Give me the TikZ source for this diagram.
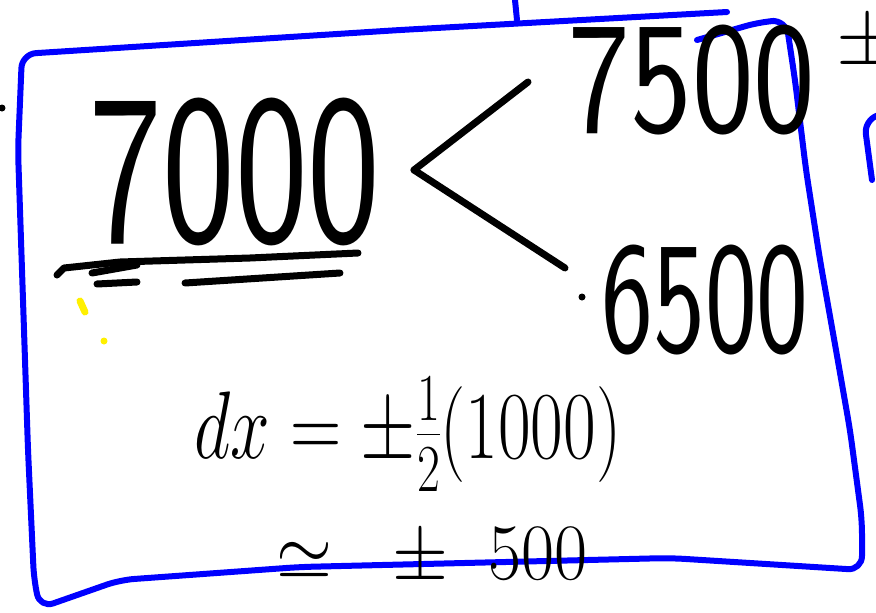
\documentclass[tikz,border=0pt]{standalone}
\usepackage{fix-cm}
\usepackage{amsmath}
\usepackage{tikz}
\usetikzlibrary{positioning}
\definecolor{penblue}{RGB}{0,0,255}
\definecolor{penyellow}{RGB}{255,240,0}
\newcommand{\handnum}[3]{{\fontsize{#1}{#1}\selectfont\scalebox{#2}[1]{#3}}}

\begin{document}
\begin{tikzpicture}[x=1pt, y=-1pt,
    ink/.style={line width=7pt, line cap=round, line join=round},
    frame/.style={draw=penblue, line width=6pt, line cap=round, line join=round, rounded corners=14pt},
    num/.style={inner sep=0pt, font=\sffamily},
    speck/.style={fill, circle, inner sep=0pt, minimum size=7pt}
  ]
    \useasboundingbox (0,0) rectangle (876,613);
    \clip (0,0) rectangle (876,613);

    % blue frame round the working
    \draw[frame] (727,12) -- (400,30) -- (22,54) -- (18,150) -- (28,450) -- (34,580)
          -- (40,608) -- (120,580) -- (300,567) -- (670,558) -- (862,570) -- (862,520)
          -- (850,430) -- (836,350) -- (820,260) -- (806,170) -- (795,80) -- (786,20)
          -- (760,22) -- (697,40);
    \draw[frame] (515,0) -- (517,20);
    \draw[frame] (872,180) -- (864,120) -- (876,116);

    % numbers
    \node[num] (n7000) at (235,172) {\handnum{215}{0.72}{7000}};
    \node[num] (n7500) at (692,80)  {\handnum{160}{0.82}{7500}};
    \node[num] (n6500) at (705,300) {\handnum{160}{0.69}{6500}};

    % the fork
    \coordinate (fork)   at (414,170);
    \coordinate (upper)  at (528,82);
    \coordinate (lower)  at (565,268);
    \draw[ink] (fork) -- (upper);
    \draw[ink] (fork) -- (lower);

    % underlines under 7000
    \draw[ink] (57,275) -- (64,268) -- (120,262) -- (250,258) -- (358,253);
    \draw[ink] (92,273) -- (137,265);
    \draw[ink] (97,284) -- (137,282);
    \draw[ink] (185,283) -- (340,273);

    % error sum
    \node[num] (dx)  at (408,434) {\handnum{96}{0.74}{$dx = \pm\frac{1}{2}(1000)$}};
    \node[num] (err) at (432,557) {\handnum{80}{0.9}{$\simeq\;\;\pm\;\;500$}};

    % partial sign at the edge
    \node[num] (pm) at (868,44) {{\fontsize{80}{80}\selectfont$\pm$}};

    % stray marks
    \node[speck] (s1) at (2,108) {};
    \node[speck] (s2) at (582,297) {};
    \draw[ink, penyellow] (80,301) -- (85,312);
    \node[speck, penyellow] (s3) at (104,341) {};
  \end{tikzpicture}
\end{document}
